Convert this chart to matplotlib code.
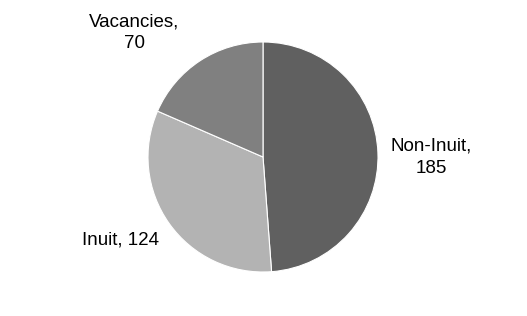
import matplotlib.pyplot as plt

# staff positions
labels = ['Non-Inuit', 'Inuit', 'Vacancies']
counts = [185, 124, 70]
colors = ['#606060', '#b3b3b3', '#808080']

plt.rcParams['font.family'] = ['Liberation Sans', 'DejaVu Sans']

fig = plt.figure(figsize=(5.27, 3.16), dpi=100)
# pie centred at about (263, 157) px with radius 115 px
ax = fig.add_axes([148 / 527, 44 / 316, 230 / 527, 230 / 316])

wedges, texts = ax.pie(counts, colors=colors, startangle=90, counterclock=False,
                       labels=['%s,\n%d' % (l, c) for l, c in zip(labels, counts)],
                       wedgeprops={'edgecolor': 'white', 'linewidth': 0.8},
                       textprops={'fontsize': 13.5, 'linespacing': 1.4})

# move the labels to where the original has them
texts[0].set_position((1.46, 0.0))
texts[1].set_text('Inuit, 124')
texts[1].set_position((-1.24, -0.72))
texts[2].set_position((-1.12, 1.08))
for t in texts:
    t.set_ha('center')
    t.set_va('center')

ax.set_xlim(-1, 1)
ax.set_ylim(-1, 1)
ax.set_aspect('equal')

plt.savefig('out.png', dpi=100)
